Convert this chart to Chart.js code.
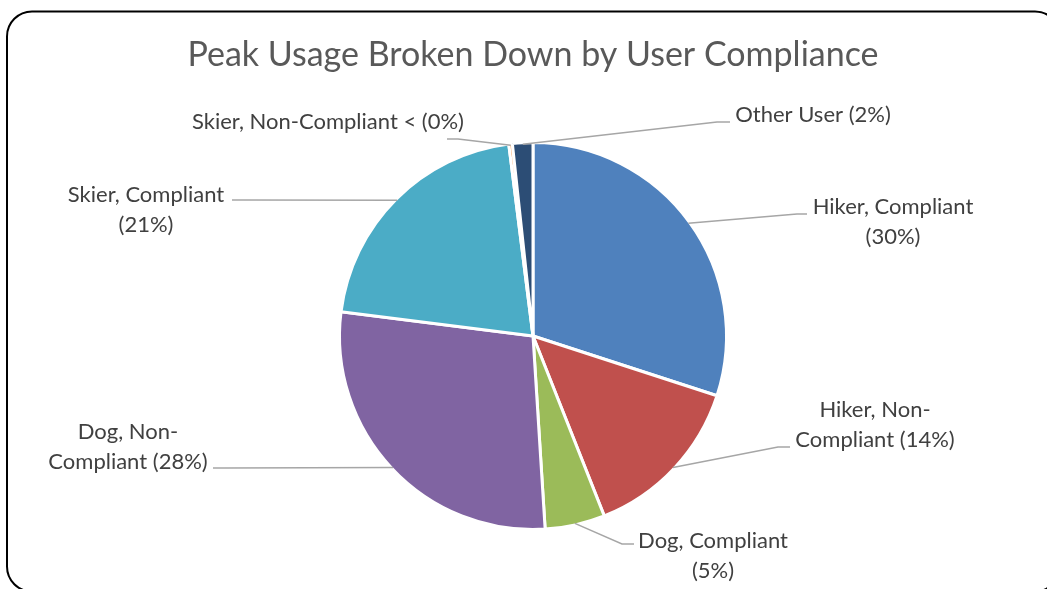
<!DOCTYPE html>
<html>
<head>
<meta charset="utf-8">
<title>Peak Usage Broken Down by User Compliance</title>
<script src="https://cdn.jsdelivr.net/npm/chart.js@4/dist/chart.umd.min.js"></script>
<style>
    html, body { margin: 0; padding: 0; background: #fff; }
    #wrap { position: relative; width: 1047px; height: 589px; }
</style>
</head>
<body>
<div id="wrap"><canvas id="peakChart"></canvas></div>
<script>
// 数据
const chartTitle = 'Peak Usage Broken Down by User Compliance';
const categories = ['Hiker, Compliant', 'Hiker, Non-Compliant', 'Dog, Compliant', 'Dog, Non-Compliant',
    'Skier, Compliant', 'Skier, Non-Compliant', 'Other User'];
const shareValues = [30, 14, 5, 28, 21, 0.3, 1.7];
const labelTexts = [
    ['Hiker, Compliant', '(30%)'],
    ['Hiker, Non-', 'Compliant (14%)'],
    ['Dog, Compliant', '(5%)'],
    ['Dog, Non-', 'Compliant (28%)'],
    ['Skier, Compliant', '(21%)'],
    ['Skier, Non-Compliant < (0%)'],
    ['Other User (2%)']
];

// 样式
const sliceColors = ['#4F81BD', '#C0504D', '#9BBB59', '#8064A2', '#4BACC6', '#F79646', '#2C4D75'];
const FONT = 'Lato, "Open Sans", sans-serif';
const LABEL_SIZE = 22;
const TITLE_SIZE = 34;

// 标签位置 (文字中心 x, 第一行基线 y, 引导线折点, 引导线末端 x)
const LABEL_LAYOUT = [
    { tx: 893, ty: 213.5, ex: 797, ey: 214, lx: 807 },
    { tx: 875, ty: 417, ex: 778, ey: 447, lx: 790 },
    { tx: 713, ty: 548, ex: 622, ey: 544, lx: 634 },
    { tx: 128, ty: 439, ex: 225, ey: 468, lx: 213 },
    { tx: 146, ty: 202, ex: 244, ey: 200, lx: 232 },
    { tx: 328, ty: 129, ex: 458, ey: 139, lx: 447 },
    { tx: 813, ty: 121.5, ex: 717, ey: 122, lx: 730 }
];

const decorPlugin = {
    id: 'decor',
    beforeDraw(chart) {
        const ctx = chart.ctx;
        ctx.save();
        ctx.fillStyle = '#fff';
        ctx.fillRect(0, 0, chart.width, chart.height);
        ctx.restore();
    },
    afterDraw(chart) {
        const ctx = chart.ctx;
        const arcs = chart.getDatasetMeta(0).data;
        const bw = chart.data.datasets[0].borderWidth;
        ctx.save();

        // 标题
        ctx.fillStyle = '#595959';
        ctx.font = `${TITLE_SIZE}px ${FONT}`;
        ctx.textAlign = 'center';
        ctx.textBaseline = 'alphabetic';
        ctx.fillText(chartTitle, 533, 66);

        // 引导线和标签
        arcs.forEach((arc, i) => {
            const p = arc.getProps(['x', 'y', 'startAngle', 'endAngle', 'outerRadius'], true);
            const mid = (p.startAngle + p.endAngle) / 2;
            const r = p.outerRadius - bw / 2;
            const sx = p.x + Math.cos(mid) * r;
            const sy = p.y + Math.sin(mid) * r;
            const lay = LABEL_LAYOUT[i];

            ctx.strokeStyle = '#A6A6A6';
            ctx.lineWidth = 1.5;
            ctx.beginPath();
            ctx.moveTo(sx, sy);
            ctx.lineTo(lay.ex, lay.ey);
            ctx.lineTo(lay.lx, lay.ey);
            ctx.stroke();

            ctx.fillStyle = '#404040';
            ctx.font = `${LABEL_SIZE}px ${FONT}`;
            labelTexts[i].forEach((line, k) => {
                ctx.fillText(line, lay.tx, lay.ty + k * 30);
            });
        });

        // 外框
        ctx.strokeStyle = '#000';
        ctx.lineWidth = 2;
        ctx.beginPath();
        ctx.roundRect(7, 11.5, 1053, 580, 25);
        ctx.stroke();
        ctx.restore();
    }
};

const ctx = document.getElementById('peakChart');
const peakChart = new Chart(ctx, {
    type: 'pie',
    data: {
        labels: categories,
        datasets: [{
            data: shareValues,
            backgroundColor: sliceColors,
            borderColor: '#fff',
            borderWidth: 3
        }]
    },
    options: {
        responsive: true,
        maintainAspectRatio: false,
        animation: false,
        layout: {
            padding: { top: 141, bottom: 58, left: 200, right: 181 }
        },
        plugins: {
            legend: { display: false },
            tooltip: { enabled: false },
            title: { display: false }
        }
    },
    plugins: [decorPlugin]
});
</script>
</body>
</html>
